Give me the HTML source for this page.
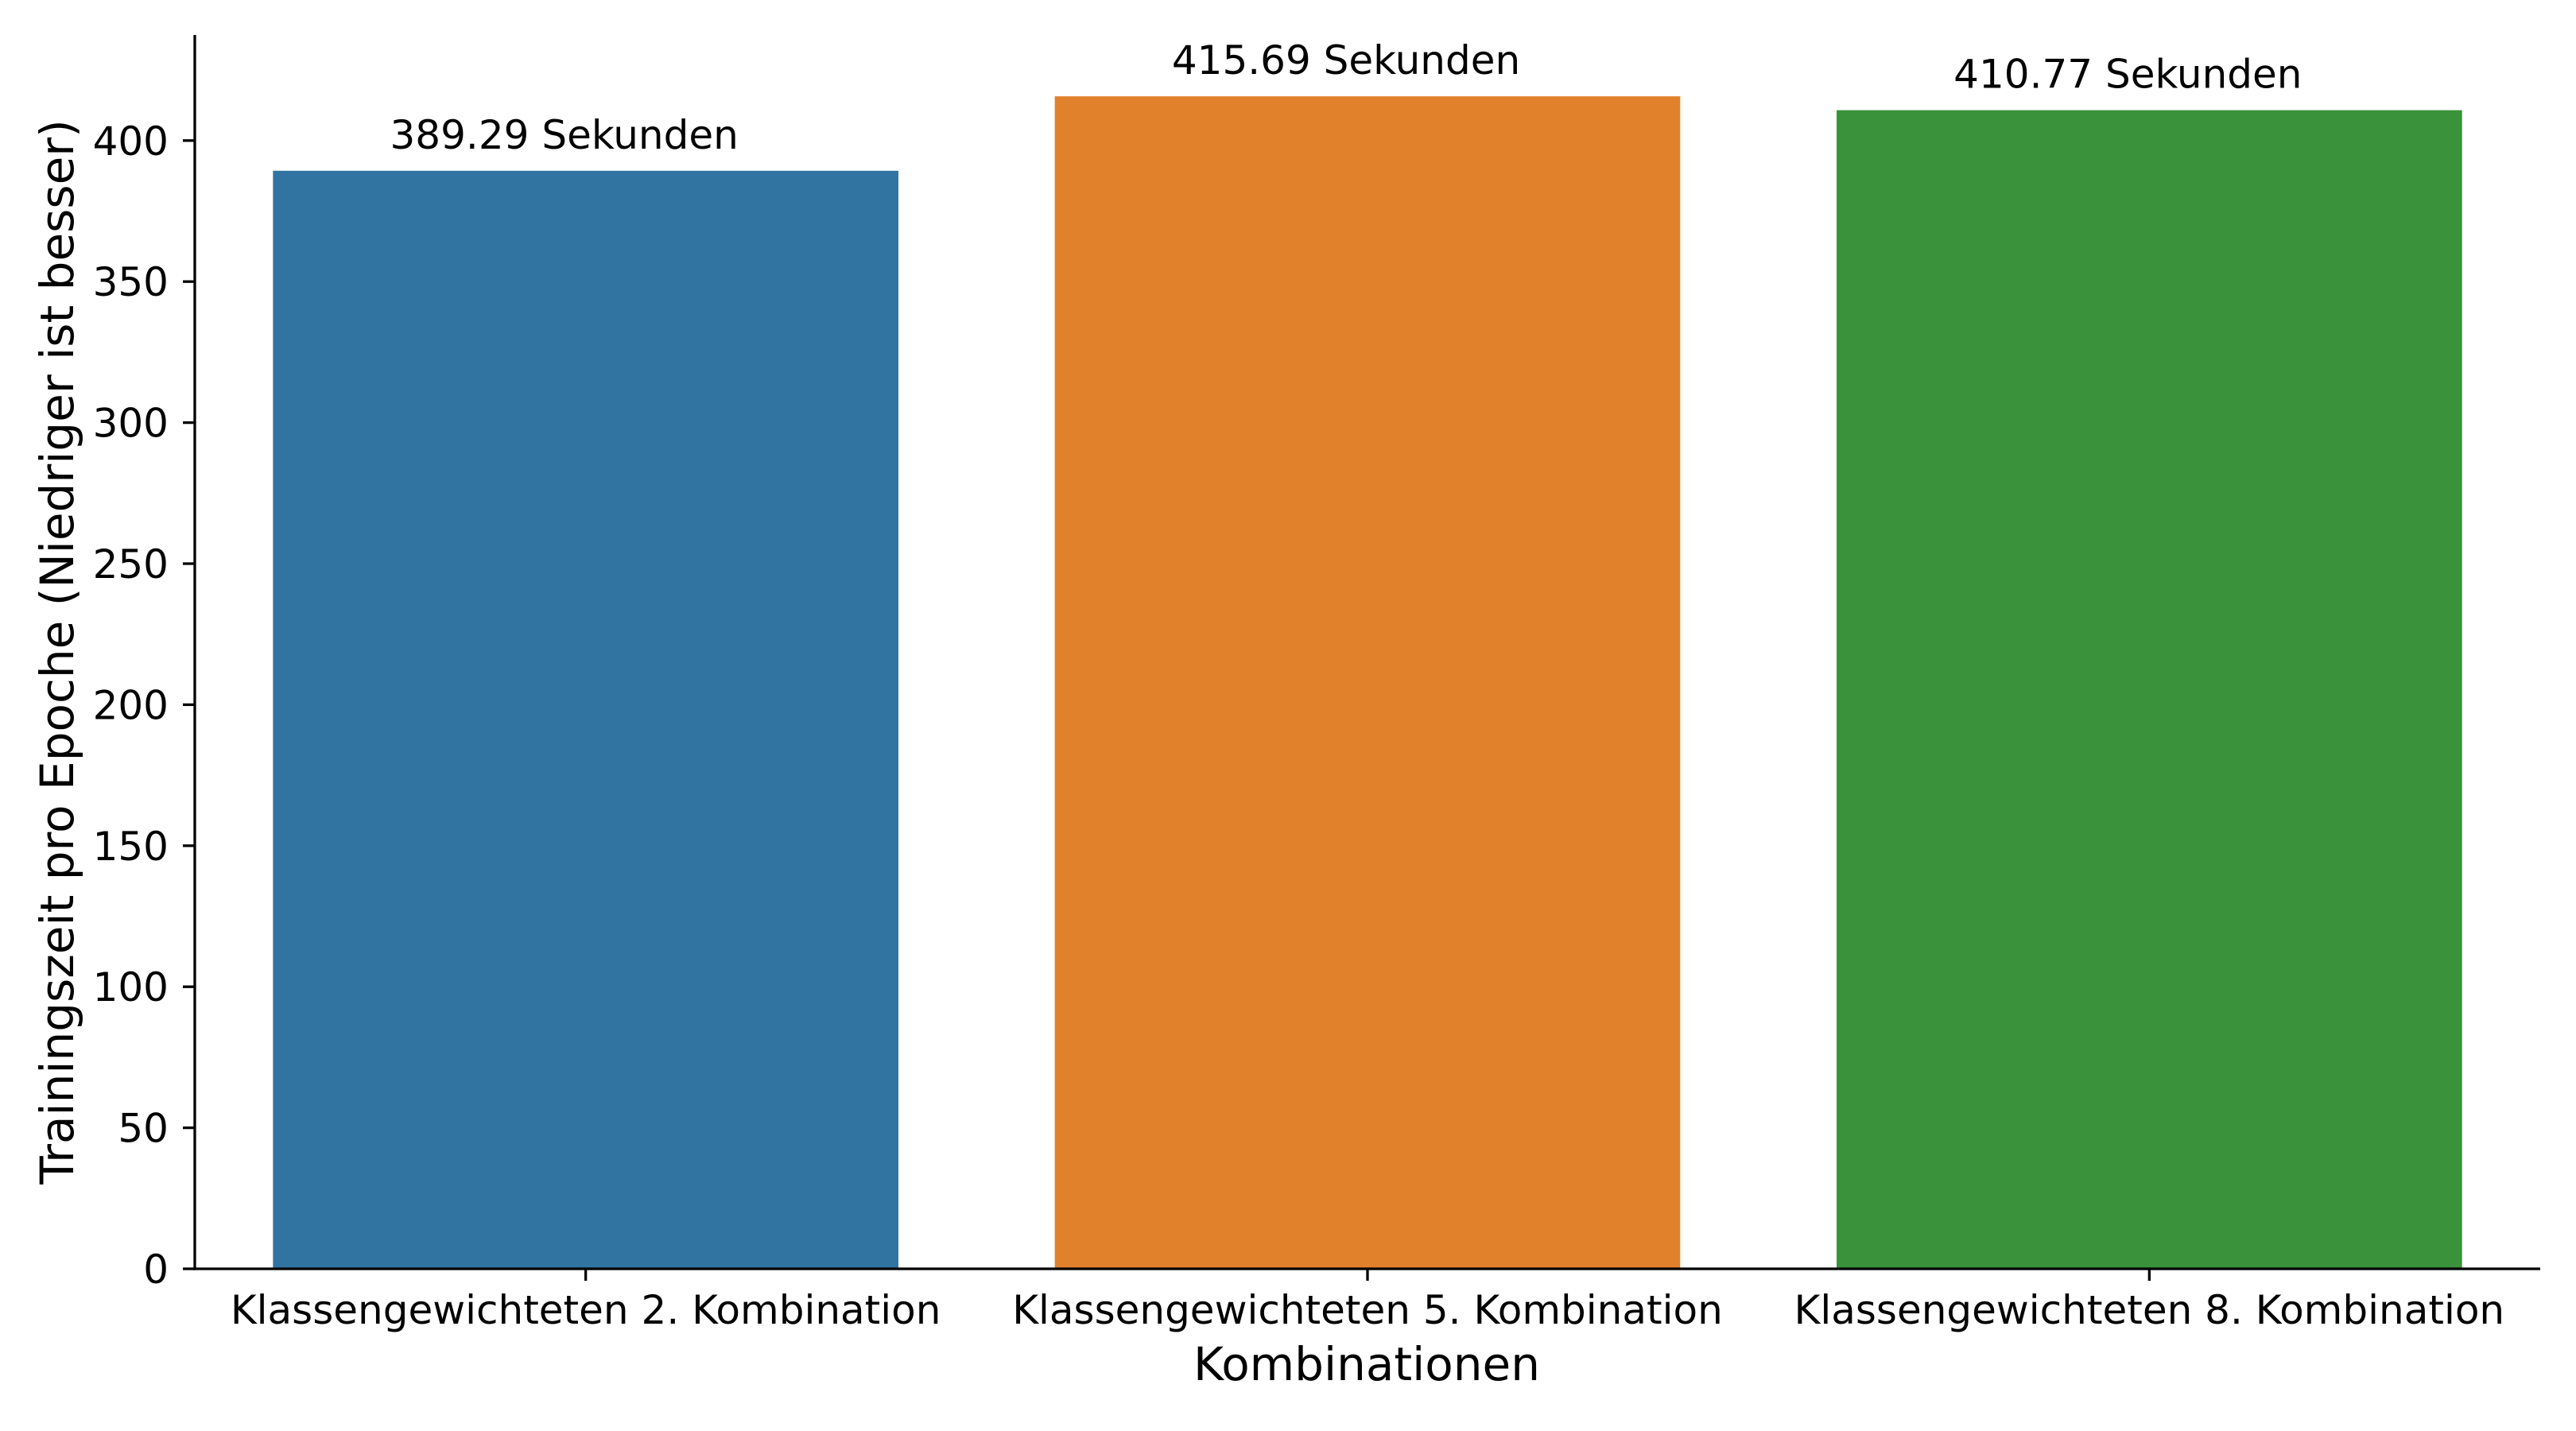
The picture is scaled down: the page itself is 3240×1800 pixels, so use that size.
<!DOCTYPE html>
<html><head><meta charset="utf-8">
<style>
html,body{margin:0;padding:0;background:#fff;}
svg{display:block;font-family:"DejaVu Sans","Liberation Sans",sans-serif;}
</style></head>
<body>
<svg id="chart" width="3240" height="1800" viewBox="0 0 3240 1800" xmlns="http://www.w3.org/2000/svg">
<rect width="3240" height="1800" fill="#fff"/>
<g id="bars"></g>
<g id="annotations"></g>
<g id="yaxis"></g>
<g id="xaxis"></g>
<text x="1719" y="1736" font-size="58" text-anchor="middle">Kombinationen</text>
<text transform="translate(92,820) rotate(-90)" font-size="58" text-anchor="middle">Trainingszeit pro Epoche (Niedriger ist besser)</text>
</svg>
<script>
const categories = ["Klassengewichteten 2. Kombination","Klassengewichteten 5. Kombination","Klassengewichteten 8. Kombination"];
const values = [389.29, 415.69, 410.77];
const labels = ["389.29 Sekunden","415.69 Sekunden","410.77 Sekunden"];
const yTicks = [0,50,100,150,200,250,300,350,400];
const colors = ["#3274a1","#e1812c","#3a923a"];

const NS = "http://www.w3.org/2000/svg";
const X0 = 245, X1 = 3195, Y0 = 1596, YTOP = 44;
const yMax = (Y0 - YTOP) / 3.548;
function yS(v){ return Y0 - v / yMax * (Y0 - YTOP); }
const band = (X1 - X0) / categories.length;
function xC(i){ return X0 + band * (i + 0.5); }
function mk(tag, attrs, parent){ const e = document.createElementNS(NS, tag); for (const k in attrs) e.setAttribute(k, attrs[k]); parent.appendChild(e); return e; }

const gb = document.getElementById('bars');
const ga = document.getElementById('annotations');
const gy = document.getElementById('yaxis');
const gx = document.getElementById('xaxis');
const bw = band * 0.8;

values.forEach((v, i) => {
  const r = mk('rect', {x: xC(i) - bw/2, y: yS(v), width: bw, height: Y0 - yS(v), fill: colors[i]}, gb);
  
  
  const t = mk('text', {x: xC(i) - 27, y: yS(v) - 28, 'font-size': 50, 'text-anchor': 'middle'}, ga);
  t.textContent = labels[i];
  
  
  const tk = mk('line', {x1: xC(i), x2: xC(i), y1: Y0, y2: Y0 + 15, stroke: '#000', 'stroke-width': 3.3}, gx);
  
  
  const tl = mk('text', {x: xC(i), y: 1665, 'font-size': 50, 'text-anchor': 'middle'}, gx);
  tl.textContent = categories[i];
  
  
});

yTicks.forEach(t => {
  const y = yS(t);
  const l = mk('line', {x1: X0 - 15, x2: X0, y1: y, y2: y, stroke: '#000', 'stroke-width': 3.3}, gy);
  
  
  const tx = mk('text', {x: 212, y: y + 18, 'font-size': 50, 'text-anchor': 'end'}, gy);
  tx.textContent = String(t);
  
  
});

const ys = mk('line', {x1: X0, x2: X0, y1: YTOP, y2: Y0 + 1.6, stroke: '#000', 'stroke-width': 3.3}, gy);


const xs = mk('line', {x1: X0 - 1.6, x2: X1, y1: Y0, y2: Y0, stroke: '#000', 'stroke-width': 3.3}, gx);


</script>
</body></html>
